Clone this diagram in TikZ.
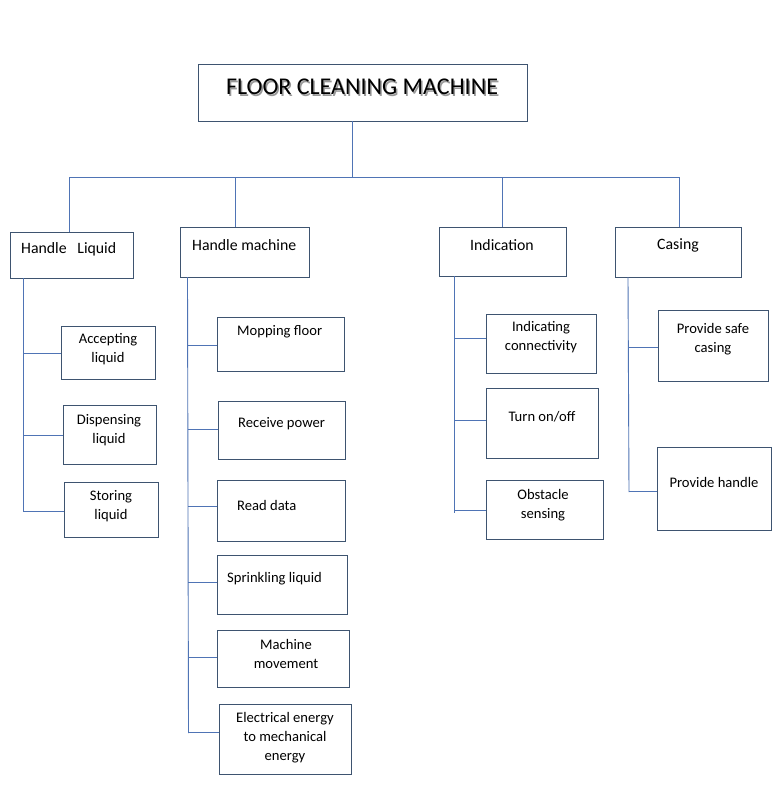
\documentclass[tikz,border=0pt]{standalone}
\usepackage{fontspec}
\setmainfont{Carlito}
\definecolor{boxc}{HTML}{3E5470}
\definecolor{linec}{HTML}{4F74B5}
\begin{document}
\begin{tikzpicture}[x=1pt,y=-1pt,
  box/.style={draw=boxc, line width=0.9pt, inner sep=0pt, anchor=north west, fill=white},
  txt/.style={font=\fontsize{14.6}{19}\selectfont, align=center, inner sep=0pt, text=black},
  head/.style={font=\fontsize{15.8}{18}\selectfont, inner sep=0pt, text=black},
  conn/.style={draw=linec, line width=0.9pt}]
\useasboundingbox[fill=white] (0,0) rectangle (780,788);

% top box
\node[box, minimum width=329pt, minimum height=57pt] (top) at (198,64) {};
\node[font=\fontsize{24}{26}\selectfont, text=black!40, inner sep=0pt] (titleshadow) at (363.5,88.5) {FLOOR CLEANING MACHINE};
\node[font=\fontsize{24}{26}\selectfont, inner sep=0pt] (title) at (362,87) {FLOOR CLEANING MACHINE};

% level-1 boxes
\node[box, minimum width=123pt, minimum height=46pt] (hl) at (10,232) {};
\node[box, minimum width=129pt, minimum height=50pt] (hm) at (180,227) {};
\node[box, minimum width=127pt, minimum height=49pt] (ind) at (439,227) {};
\node[box, minimum width=126pt, minimum height=50pt] (cas) at (615,227) {};
\node[head, anchor=west] (hlt) at (21,249) {Handle\ \ \ Liquid};
\node[head, anchor=west] (hmt) at (192,245) {Handle machine};
\node[head] (indt) at (502,245) {Indication};
\node[head] (cast) at (678,245) {Casing};

% bus
\coordinate (topb) at (352,121);
\coordinate (bus) at (352,177);
\coordinate (busL) at (69,177);
\coordinate (busR) at (679,177);
\draw[conn] (topb) -- (bus);
\draw[conn] (busL) -- (busR);
\draw[conn] (busL) -- (hl.north -| busL);
\draw[conn] (235,177) -- (hm.north -| 235,0);
\draw[conn] (502,177) -- (ind.north -| 502,0);
\draw[conn] (busR) -- (cas.north -| busR);

% Handle Liquid children
\node[box, minimum width=94pt, minimum height=53pt] (acc) at (61,326) {};
\node[box, minimum width=93pt, minimum height=59pt] (dis) at (63,405) {};
\node[box, minimum width=94pt, minimum height=55pt] (sto) at (64,482) {};
\node[txt] (acct) at (108,349) {Accepting\\liquid};
\node[txt] (dist) at (109,430) {Dispensing\\liquid};
\node[txt] (stot) at (111,506) {Storing\\liquid};
\coordinate (t1a) at (23.5,278);
\coordinate (t1b) at (23.5,512);
\draw[conn] (t1a) -- (t1b);
\draw[conn] (t1a |- acc.west) -- (acc.west);
\draw[conn] (t1a |- dis.west) -- (dis.west);
\draw[conn] (t1a |- 0,511) -- (sto.west |- 0,511);

% Handle machine children
\node[box, minimum width=127pt, minimum height=54pt] (mop) at (217,317) {};
\node[box, minimum width=127pt, minimum height=58pt] (rec) at (218,401) {};
\node[box, minimum width=128pt, minimum height=61pt] (rd) at (217,480) {};
\node[box, minimum width=130pt, minimum height=59pt] (spr) at (217,555) {};
\node[box, minimum width=132pt, minimum height=57pt] (mov) at (217,630) {};
\node[box, minimum width=132pt, minimum height=70pt] (ele) at (219,704) {};
\node[txt, anchor=west] (mopt) at (237,332) {Mopping floor};
\node[txt, anchor=west] (rect) at (238,424) {Receive power};
\node[txt, anchor=west] (rdt) at (237,505) {Read data};
\node[txt, anchor=west] (sprt) at (227,579) {Sprinkling liquid};
\node[txt] (movt) at (286,654) {Machine\\movement};
\node[txt] (elet) at (285,738) {Electrical energy\\to mechanical\\energy};
\coordinate (t2a) at (187.5,277);
\coordinate (t2b) at (188.5,733);
\draw[conn] (t2a) -- (t2b);
\draw[conn] (188,345) -- (mop.west |- 0,345);
\draw[conn] (188,429) -- (rec.west |- 0,429);
\draw[conn] (188,506) -- (rd.west |- 0,506);
\draw[conn] (188,582) -- (spr.west |- 0,582);
\draw[conn] (188,657) -- (mov.west |- 0,657);
\draw[conn] (188.5,732) -- (ele.west |- 0,732);

% Indication children
\node[box, minimum width=110pt, minimum height=59pt] (con) at (486,314) {};
\node[box, minimum width=112pt, minimum height=70pt] (onf) at (486,388) {};
\node[box, minimum width=117pt, minimum height=59pt] (obs) at (486,480) {};
\node[txt] (cont) at (541,337.5) {Indicating\\connectivity};
\node[txt] (onft) at (542,417) {Turn on/off};
\node[txt] (obst) at (543,505) {Obstacle\\sensing};
\coordinate (t3a) at (454,276);
\coordinate (t3b) at (454,513);
\draw[conn] (t3a) -- (t3b);
\draw[conn] (454,338) -- (con.west |- 0,338);
\draw[conn] (454,420) -- (onf.west |- 0,420);
\draw[conn] (454,510) -- (obs.west |- 0,510);

% Casing children
\node[box, minimum width=110pt, minimum height=71pt] (saf) at (658,310) {};
\node[box, minimum width=114pt, minimum height=83pt] (hnd) at (657,447) {};
\node[txt] (saft) at (713,339.5) {Provide safe\\casing};
\node[txt] (hndt) at (714,482) {Provide handle};
\coordinate (t4a) at (628,277);
\coordinate (t4b) at (629,492);
\draw[conn] (t4a) -- (t4b);
\draw[conn] (628.5,347) -- (saf.west |- 0,347);
\draw[conn] (629,491) -- (hnd.west |- 0,491);
\end{tikzpicture}
\end{document}
